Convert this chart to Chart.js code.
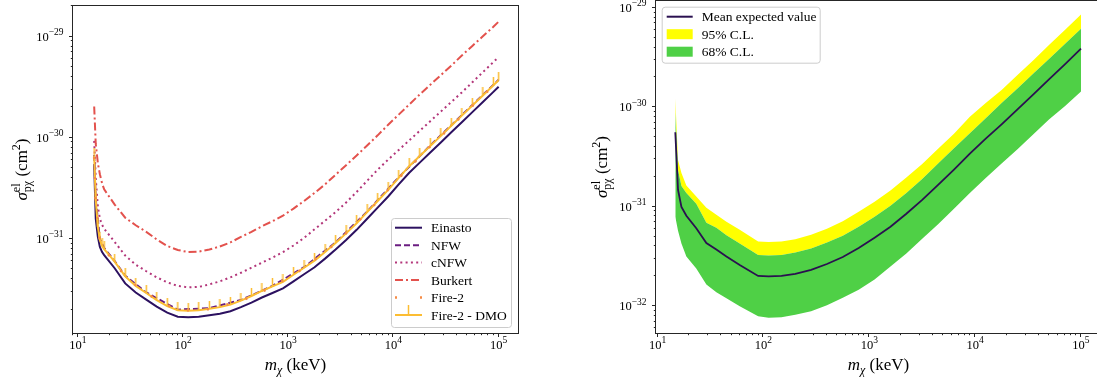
<!DOCTYPE html>
<html>
<head>
<meta charset="utf-8">
<title>sigma_e limits</title>
<script src="https://cdn.jsdelivr.net/npm/chart.js@4.4.1/dist/chart.umd.min.js"></script>
<style>
  html, body { margin: 0; padding: 0; background: #fff; }
  body { width: 1097px; height: 379px; overflow: hidden; position: relative; }
  canvas { position: absolute; top: 0; }
  #halo { left: 0; }
  #band { left: 560px; }
</style>
</head>
<body>
<canvas id="halo" width="540" height="379"></canvas>
<canvas id="band" width="545" height="379"></canvas>
<script>
// values are log10(sigma / cm^2); masses in keV
const massL = [14.3, 14.8, 15.5, 16.2, 17, 17.8, 22.4, 28.2, 35.5, 44.7, 56.2, 70.8, 89.1,
  112, 141, 178, 224, 282, 355, 447, 562, 708, 891,
  1122, 1413, 1778, 2239, 2818, 3548, 4467, 5623, 7079, 8913,
  11220, 14125, 17783, 22387, 28184, 35481, 44668, 56234, 70795, 89125, 100000];
const einastoLog = [-30.26, -30.80, -30.98, -31.08, -31.13, -31.16, -31.29, -31.44, -31.53, -31.60, -31.67, -31.73, -31.77,
  -31.775, -31.77, -31.755, -31.74, -31.715, -31.675, -31.63, -31.58, -31.535, -31.49,
  -31.42, -31.35, -31.28, -31.195, -31.105, -31.01, -30.91, -30.80, -30.69, -30.58,
  -30.46, -30.345, -30.245, -30.145, -30.045, -29.945, -29.845, -29.745, -29.645, -29.545, -29.494];
const dmoLog = [-30.18, -30.62, -30.88, -31.01, -31.07, -31.10, -31.225, -31.37, -31.465, -31.535, -31.605, -31.665, -31.705,
  -31.71, -31.705, -31.69, -31.675, -31.65, -31.61, -31.565, -31.515, -31.47, -31.425,
  -31.355, -31.285, -31.215, -31.13, -31.04, -30.945, -30.845, -30.735, -30.625, -30.515,
  -30.395, -30.28, -30.18, -30.08, -29.98, -29.88, -29.78, -29.68, -29.58, -29.48, -29.43];
const cnfwLog = [-30.03, -30.40, -30.68, -30.80, -30.86, -30.90, -31.03, -31.165, -31.255, -31.32, -31.38, -31.43, -31.465,
  -31.48, -31.475, -31.45, -31.42, -31.38, -31.335, -31.285, -31.235, -31.185, -31.13,
  -31.065, -30.99, -30.905, -30.82, -30.735, -30.64, -30.535, -30.425, -30.315, -30.215,
  -30.12, -30.025, -29.93, -29.835, -29.74, -29.645, -29.55, -29.45, -29.35, -29.25, -29.20];
const burkertLog = [-29.69, -30.06, -30.25, -30.36, -30.45, -30.51, -30.66, -30.79, -30.865, -30.93, -31.005, -31.07, -31.11,
  -31.13, -31.125, -31.105, -31.075, -31.035, -30.98, -30.93, -30.875, -30.825, -30.77,
  -30.70, -30.625, -30.545, -30.46, -30.365, -30.27, -30.175, -30.075, -29.975, -29.87,
  -29.77, -29.67, -29.57, -29.475, -29.38, -29.285, -29.185, -29.09, -28.995, -28.90, -28.85];

// NFW and Fire-2 sit under the Fire-2 - DMO curve, coarser grid
const massC = [14.3, 14.8, 16.2, 17.8, 22.4, 28.2, 44.7, 89.1, 178, 355, 708, 1413, 2818, 5623, 11220, 22387, 44668, 100000];
const nfwLog = [-30.17, -30.61, -31.00, -31.09, -31.22, -31.365, -31.53, -31.70, -31.685, -31.605, -31.465, -31.28, -31.035, -30.73, -30.39, -30.075, -29.775, -29.425];
const fire2Log = [-30.19, -30.63, -31.015, -31.105, -31.23, -31.375, -31.54, -31.71, -31.695, -31.615, -31.475, -31.29, -31.045, -30.74, -30.40, -30.085, -29.785, -29.435];

// right panel
const massR = [14.7, 15.6, 16.8, 18.7, 23.2, 28.9, 35.9, 44.7, 59.7, 89.1,
  112, 148, 200, 282, 398, 562, 794, 1122, 1585, 2239,
  3162, 4467, 6310, 8913, 12589, 17783, 25119, 35481, 50119, 70795, 100000];
const meanLog = [-30.25, -30.83, -31.00, -31.09, -31.215, -31.365, -31.43, -31.50, -31.585, -31.695,
  -31.70, -31.695, -31.675, -31.635, -31.575, -31.505, -31.415, -31.31, -31.20, -31.07,
  -30.93, -30.78, -30.625, -30.465, -30.315, -30.17, -30.02, -29.87, -29.715, -29.565, -29.41];
const up95Log = [-29.91, -30.53, -30.66, -30.785, -30.895, -31.01, -31.08, -31.15, -31.23, -31.35,
  -31.355, -31.35, -31.325, -31.28, -31.22, -31.145, -31.05, -30.95, -30.835, -30.705,
  -30.57, -30.415, -30.265, -30.095, -29.955, -29.825, -29.675, -29.525, -29.37, -29.22, -29.066];
const up68Log = [-30.05, -30.63, -30.79, -30.86, -30.97, -31.16, -31.21, -31.285, -31.37, -31.485,
  -31.49, -31.485, -31.46, -31.42, -31.36, -31.29, -31.20, -31.10, -30.99, -30.86,
  -30.72, -30.565, -30.41, -30.26, -30.11, -29.955, -29.81, -29.66, -29.51, -29.36, -29.21];
const lo68Log = [-31.10, -31.24, -31.37, -31.50, -31.62, -31.78, -31.86, -31.92, -32.00, -32.10,
  -32.115, -32.11, -32.085, -32.05, -31.99, -31.915, -31.835, -31.73, -31.60, -31.47,
  -31.32, -31.175, -31.02, -30.86, -30.71, -30.565, -30.42, -30.27, -30.12, -29.985, -29.84];

const SERIF = '"Liberation Serif", "DejaVu Serif", serif';
const AXIS = '#262626';
const C = {
  einasto: '#2c1160', nfw: '#6b1d81', cnfw: '#b3367a', burkert: '#e3524d',
  fire2: '#f68c46', dmo: '#fcbd32',
  mean: '#2a1050', y95: '#ffff00', g68: '#4fd046'
};
Chart.defaults.font.family = SERIF;

const pts = (xs, logs) => xs.map((m, i) => ({ x: m, y: 10 ** logs[i] }));
const f = (size, italic) => (italic ? 'italic ' : '') + size + 'px ' + SERIF;

// little "tick up" marker for Fire-2 - DMO
const tickUp = document.createElement('canvas');
tickUp.width = 3; tickUp.height = 16;
(function () {
  const t = tickUp.getContext('2d');
  t.strokeStyle = C.dmo; t.lineWidth = 1.5;
  t.beginPath(); t.moveTo(1.5, 0); t.lineTo(1.5, 8); t.stroke();
})();

// --- text with super/subscripts ---
function segW(ctx, s) {
  if (s.stack) return Math.max(...s.stack.map(p => { ctx.font = p.font; return ctx.measureText(p.t).width; }));
  ctx.font = s.font; return ctx.measureText(s.t).width;
}
function drawSegs(ctx, segs, x, y, align) {
  const total = segs.reduce((w, s) => w + segW(ctx, s), 0);
  let cx = align === 'center' ? x - total / 2 : align === 'right' ? x - total : x;
  ctx.textAlign = 'left'; ctx.textBaseline = 'alphabetic'; ctx.fillStyle = '#000';
  segs.forEach(s => {
    (s.stack || [s]).forEach(p => { ctx.font = p.font; ctx.fillText(p.t, cx, y + (p.dy || 0)); });
    cx += segW(ctx, s);
  });
}
const powSegs = d => [{ t: '10', font: f(12.5) }, { t: (d < 0 ? '\u2212' + (-d) : String(d)), font: f(9.5), dy: -5.5 }];
const xTitle = [{ t: 'm', font: f(17, true) }, { t: '\u03c7', font: f(12, true), dy: 4 }, { t: ' (keV)', font: f(17) }];
const yTitle = [{ t: '\u03c3', font: f(17, true) },
  { stack: [{ t: 'el', font: f(12), dy: -7 }, { t: 'p\u03c7', font: f(12), dy: 4 }] },
  { t: ' (cm', font: f(17) }, { t: '2', font: f(12), dy: -7 }, { t: ')', font: f(17) }];

function logTicks(min, max) {
  const out = [];
  for (let d = Math.floor(Math.log10(min)); d <= Math.ceil(Math.log10(max)); d++) {
    for (let k = 1; k <= 9; k++) {
      const v = k * 10 ** d;
      if (v >= min && v <= max) out.push({ v, k, d });
    }
  }
  return out;
}

function drawLegend(ctx, L) {
  ctx.save();
  ctx.beginPath();
  ctx.roundRect(L.x + 0.5, L.y + 0.5, L.w, L.h, 3);
  ctx.fillStyle = 'rgba(255,255,255,0.8)'; ctx.fill();
  ctx.strokeStyle = '#cccccc'; ctx.lineWidth = 1; ctx.stroke();
  L.items.forEach((it, i) => {
    const y = L.y0 + i * L.dy;
    if (it.patch) {
      ctx.fillStyle = it.color;
      ctx.fillRect(L.hx0, y - 5, L.hx1 - L.hx0, 10);
    } else {
      ctx.strokeStyle = it.color; ctx.lineWidth = it.width || 2;
      ctx.setLineDash(it.dash || []);
      ctx.beginPath(); ctx.moveTo(L.hx0, y); ctx.lineTo(L.hx1, y); ctx.stroke();
      ctx.setLineDash([]);
      if (it.tick) {
        const mx = (L.hx0 + L.hx1) / 2;
        ctx.lineWidth = 1.5;
        ctx.beginPath(); ctx.moveTo(mx, y); ctx.lineTo(mx, y - 10); ctx.stroke();
      }
    }
    ctx.fillStyle = '#000'; ctx.font = f(13.5); ctx.textAlign = 'left'; ctx.textBaseline = 'alphabetic';
    ctx.fillText(it.label, L.tx, y + 4.5);
  });
  ctx.restore();
}

function decor(cfg) {
  return {
    id: 'decor',
    afterDraw(chart) {
      const ctx = chart.ctx, a = chart.chartArea;
      const xs = chart.scales.x, ys = chart.scales.y;
      ctx.save();
      ctx.strokeStyle = AXIS; ctx.lineWidth = 1;
      ctx.strokeRect(a.left - 0.5, a.top - 0.5, a.right - a.left + 1, a.bottom - a.top + 1);
      ctx.beginPath();
      logTicks(xs.min, xs.max).forEach(t => {
        const px = Math.round(xs.getPixelForValue(t.v)) - 0.5;
        ctx.moveTo(px, a.bottom); ctx.lineTo(px, a.bottom + (t.k === 1 ? 4 : 2.2));
      });
      logTicks(ys.min, ys.max).forEach(t => {
        const py = Math.round(ys.getPixelForValue(t.v)) - 0.5;
        ctx.moveTo(a.left, py); ctx.lineTo(a.left - (t.k === 1 ? 4 : 2.2), py);
      });
      ctx.stroke();
      logTicks(xs.min, xs.max).filter(t => t.k === 1).forEach(t => {
        drawSegs(ctx, powSegs(t.d), xs.getPixelForValue(t.v), a.bottom + 15.5, 'center');
      });
      logTicks(ys.min, ys.max).filter(t => t.k === 1).forEach(t => {
        drawSegs(ctx, powSegs(t.d), a.left - 9.5, ys.getPixelForValue(t.v) + 4, 'right');
      });
      drawSegs(ctx, xTitle, (a.left + a.right) / 2, 370, 'center');
      ctx.save();
      ctx.translate(cfg.yTitleX, (a.top + a.bottom) / 2);
      ctx.rotate(-Math.PI / 2);
      drawSegs(ctx, yTitle, 0, 0, 'center');
      ctx.restore();
      ctx.restore();
      drawLegend(ctx, cfg.legend);
    }
  };
}

function makeChart(id, datasets, cfg) {
  const hidden = { display: false };
  return new Chart(document.getElementById(id), {
    type: 'line',
    data: { datasets },
    options: {
      responsive: false, animation: false, devicePixelRatio: 1,
      layout: { padding: { left: 0, top: 1, right: cfg.padRight, bottom: 0 } },
      elements: { point: { radius: 0 }, line: { tension: 0, borderCapStyle: 'butt' } },
      plugins: { legend: hidden, tooltip: { enabled: false } },
      scales: {
        x: {
          type: 'logarithmic', bounds: 'data', min: cfg.xMin, max: cfg.xMax,
          ticks: hidden, grid: hidden, border: hidden,
          afterFit: s => { s.height = 46; }
        },
        y: {
          type: 'logarithmic', bounds: 'data', min: cfg.yMin, max: cfg.yMax,
          ticks: hidden, grid: hidden, border: hidden,
          afterFit: s => { s.width = cfg.yWidth; }
        }
      }
    },
    plugins: [decor(cfg)]
  });
}

// left: halo profiles
makeChart('halo', [
  { label: 'Einasto', data: pts(massL, einastoLog), borderColor: C.einasto, borderWidth: 2, fill: false, order: 5 },
  { label: 'NFW', data: pts(massC, nfwLog), borderColor: C.nfw, borderWidth: 2, borderDash: [6, 3], fill: false, order: 4 },
  { label: 'cNFW', data: pts(massL, cnfwLog), borderColor: C.cnfw, borderWidth: 2, borderDash: [2, 3.3], fill: false, order: 3 },
  { label: 'Burkert', data: pts(massL, burkertLog), borderColor: C.burkert, borderWidth: 2, borderDash: [8, 3, 2, 3], fill: false, order: 2 },
  { label: 'Fire-2 - DMO', data: pts(massL, dmoLog), borderColor: C.dmo, borderWidth: 2, fill: false, order: 1,
    pointStyle: tickUp, pointRadius: 3 },
  { label: 'Fire-2', data: pts(massC, fire2Log), borderColor: C.fire2, borderWidth: 2.5, borderDash: [2, 18], fill: false, order: 0 }
], {
  xMin: 10 ** 0.954, xMax: 10 ** 5.184, yMin: 10 ** -31.931, yMax: 10 ** -28.695,
  yWidth: 73, padRight: 22, yTitleX: 26.5,
  legend: {
    x: 391, y: 218, w: 120, h: 109, y0: 227.7, dy: 17.46, hx0: 395, hx1: 422, tx: 431,
    items: [
      { label: 'Einasto', color: C.einasto },
      { label: 'NFW', color: C.nfw, dash: [6, 3] },
      { label: 'cNFW', color: C.cnfw, dash: [2, 3.3] },
      { label: 'Burkert', color: C.burkert, dash: [8, 3, 2, 3] },
      { label: 'Fire-2', color: C.fire2, dash: [2, 23], width: 2.5 },
      { label: 'Fire-2 - DMO', color: C.dmo, tick: true }
    ]
  }
});

// right: expected sensitivity with bands
makeChart('band', [
  { label: 'Mean expected value', data: pts(massR, meanLog), borderColor: C.mean, borderWidth: 1.8, fill: false, order: 0 },
  { label: '95% C.L.', data: pts(massR, up95Log), borderWidth: 0, borderColor: 'transparent', backgroundColor: C.y95, fill: '+1', order: 2 },
  { label: '68% C.L.', data: pts(massR, up68Log), borderWidth: 0, borderColor: 'transparent', backgroundColor: C.g68, fill: '+1', order: 1 },
  { label: '68% low', data: pts(massR, lo68Log), borderWidth: 0, borderColor: 'transparent', fill: false, order: 3 }
], {
  xMin: 10 ** 0.985, xMax: 10 ** 5.189, yMin: 10 ** -32.269, yMax: 10 ** -28.93,
  yWidth: 96, padRight: 4, yTitleX: 46.5,
  legend: {
    x: 101.7, y: 6.7, w: 158, h: 56, y0: 16.7, dy: 17.5, hx0: 106.7, hx1: 132.7, tx: 141.7,
    items: [
      { label: 'Mean expected value', color: C.mean },
      { label: '95% C.L.', color: C.y95, patch: true },
      { label: '68% C.L.', color: C.g68, patch: true }
    ]
  }
});
</script>
</body>
</html>
